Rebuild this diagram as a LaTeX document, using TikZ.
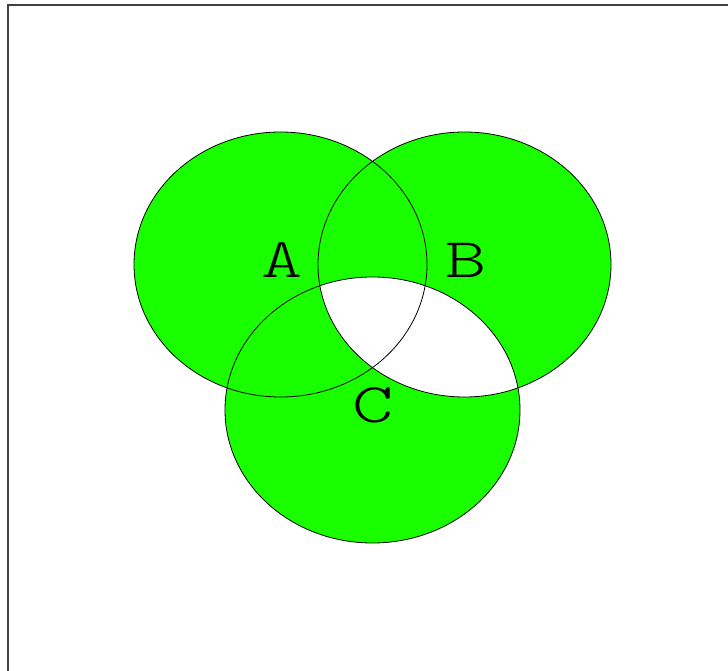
\documentclass[tikz,border=0pt]{standalone}
\definecolor{vgreen}{RGB}{25,255,0}
\definecolor{framegray}{RGB}{64,64,64}
\begin{document}
\begin{tikzpicture}[x=1pt,y=-1pt,
  setfill/.style={fill=vgreen},
  outline/.style={draw=black,line width=0.8pt},
  setlabel/.style={inner sep=0pt,anchor=base,xscale=1.4,font=\fontseries{l}\ttfamily\fontsize{56}{60}\selectfont},
  frameline/.style={draw=framegray,line width=1.3pt}]
\useasboundingbox (0,0) rectangle (728,671);
% frame
\coordinate (ftr) at (728,5);
\coordinate (ftl) at (8,5);
\coordinate (fbl) at (8,671);
\draw[frameline] (ftr) -- (ftl) -- (fbl);
% set centres
\coordinate (ca) at (280.5,264.5);
\coordinate (cb) at (464.5,264.5);
\coordinate (cc) at (372.5,410);
% fills
\fill[setfill] (ca) ellipse [x radius=146.5, y radius=132.5];
\fill[setfill] (cb) ellipse [x radius=146.5, y radius=132.5];
\fill[setfill] (cc) ellipse [x radius=147.5, y radius=133];
\begin{scope}
  \clip (cb) ellipse [x radius=146.5, y radius=132.5];
  \fill[white] (cc) ellipse [x radius=147.5, y radius=133];
\end{scope}
% outlines
\draw[outline] (ca) ellipse [x radius=146.5, y radius=132.5];
\draw[outline] (cb) ellipse [x radius=146.5, y radius=132.5];
\draw[outline] (cc) ellipse [x radius=147.5, y radius=133];
% labels
\node[setlabel] (la) at (282,277) {A};
\node[setlabel] (lb) at (466,277) {B};
\node[setlabel] (lc) at (373,422) {C};
\end{tikzpicture}
\end{document}
